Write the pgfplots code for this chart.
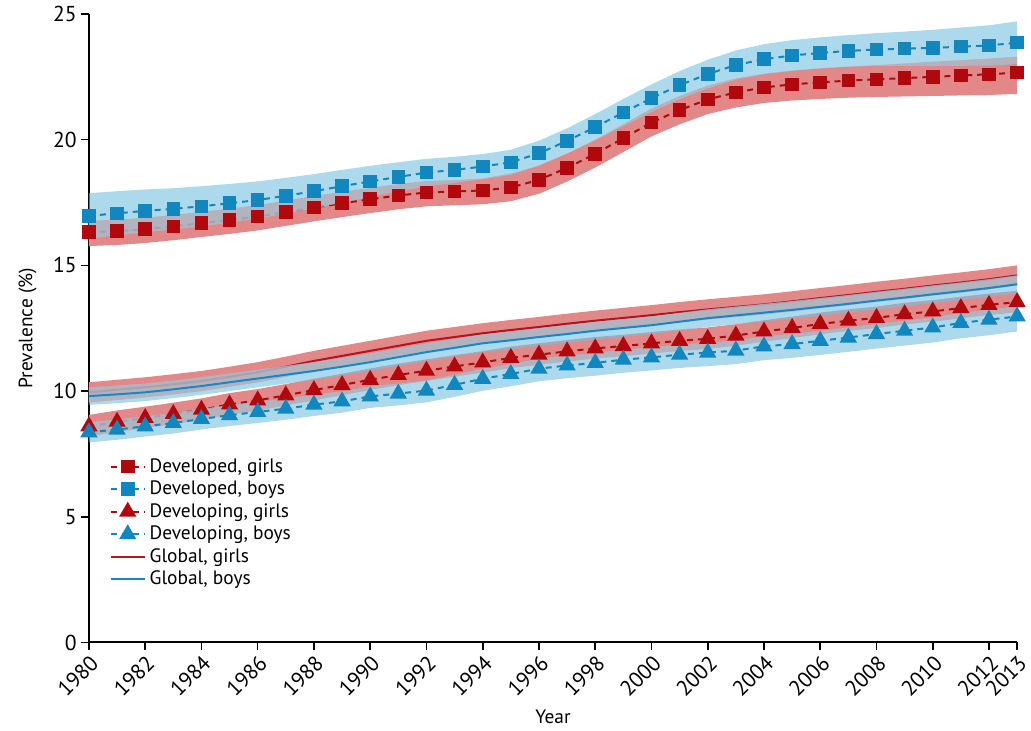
\documentclass[border=0pt]{standalone}
\usepackage{fontspec}
\setmainfont{PT Sans}
\usepackage{pgfplots}
\usepackage{pgfplotstable}
\usepgfplotslibrary{fillbetween}
\pgfplotsset{compat=1.18}

\definecolor{mred}{RGB}{176,8,12}
\definecolor{mblue}{RGB}{18,134,190}
\definecolor{bandred}{RGB}{226,136,136}
\definecolor{bandblue}{RGB}{117,193,223}
\definecolor{bandgray}{RGB}{190,186,194}
\definecolor{lred}{RGB}{180,20,30}
\definecolor{lblue}{RGB}{25,135,195}

% Developed countries
\pgfplotstableread{
year dg dglo dghi db dblo dbhi
1980 16.32 15.77 16.77 16.97 16.07 17.87
1981 16.36 15.81 16.81 17.07 16.19 17.95
1982 16.44 15.89 16.89 17.17 16.32 18.02
1983 16.55 16.00 17.00 17.25 16.43 18.07
1984 16.68 16.13 17.13 17.35 16.55 18.15
1985 16.80 16.25 17.25 17.47 16.70 18.24
1986 16.94 16.39 17.39 17.60 16.86 18.34
1987 17.12 16.57 17.57 17.77 17.06 18.48
1988 17.30 16.75 17.75 17.95 17.27 18.63
1989 17.47 16.92 17.92 18.15 17.50 18.80
1990 17.63 17.08 18.08 18.34 17.72 18.96
1991 17.78 17.23 18.23 18.52 17.94 19.10
1992 17.90 17.35 18.35 18.69 18.14 19.24
1993 17.94 17.39 18.39 18.80 18.28 19.32
1994 17.98 17.43 18.45 18.93 18.43 19.43
1995 18.10 17.55 18.65 19.10 18.60 19.60
1996 18.40 17.85 18.97 19.46 18.96 19.96
1997 18.88 18.33 19.45 19.95 19.45 20.45
1998 19.44 18.89 19.99 20.50 19.98 21.02
1999 20.06 19.51 20.61 21.08 20.54 21.62
2000 20.68 20.13 21.23 21.65 21.10 22.20
2001 21.18 20.61 21.73 22.17 21.61 22.73
2002 21.60 21.02 22.15 22.61 22.04 23.18
2003 21.88 21.28 22.43 22.97 22.39 23.55
2004 22.08 21.46 22.62 23.20 22.60 23.80
2005 22.20 21.56 22.75 23.35 22.74 23.96
2006 22.28 21.62 22.84 23.45 22.83 24.07
2007 22.35 21.67 22.91 23.53 22.90 24.16
2008 22.40 21.70 22.96 23.59 22.94 24.24
2009 22.45 21.72 23.03 23.62 22.94 24.30
2010 22.50 21.74 23.10 23.65 22.93 24.37
2011 22.55 21.76 23.16 23.70 22.94 24.46
2012 22.60 21.78 23.22 23.75 22.95 24.55
2013 22.67 21.82 23.30 23.86 23.01 24.71
}\dev

% Developing countries
\pgfplotstableread{
year vg vglo vghi vb vblo vbhi
1980 8.60 8.20 9.05 8.36 7.96 8.76
1981 8.78 8.38 9.23 8.47 8.06 8.87
1982 8.93 8.53 9.38 8.60 8.19 9.00
1983 9.09 8.69 9.54 8.73 8.31 9.13
1984 9.26 8.86 9.71 8.89 8.47 9.29
1985 9.47 9.07 9.92 9.04 8.61 9.44
1986 9.63 9.23 10.08 9.17 8.73 9.57
1987 9.83 9.43 10.28 9.30 8.86 9.70
1988 10.04 9.64 10.49 9.46 9.01 9.86
1989 10.24 9.84 10.69 9.59 9.14 9.99
1990 10.45 10.05 10.90 9.79 9.33 10.19
1991 10.64 10.24 11.09 9.90 9.43 10.30
1992 10.81 10.41 11.26 10.02 9.55 10.42
1993 10.98 10.58 11.43 10.25 9.77 10.65
1994 11.14 10.74 11.59 10.49 10.01 10.89
1995 11.32 10.92 11.77 10.68 10.19 11.08
1996 11.45 11.05 11.90 10.89 10.39 11.29
1997 11.58 11.18 12.03 11.02 10.51 11.42
1998 11.70 11.30 12.15 11.12 10.61 11.52
1999 11.79 11.39 12.24 11.25 10.73 11.65
2000 11.90 11.50 12.35 11.34 10.82 11.74
2001 12.00 11.60 12.45 11.45 10.92 11.85
2002 12.08 11.68 12.53 11.53 10.99 11.93
2003 12.21 11.81 12.66 11.61 11.07 12.01
2004 12.37 11.97 12.82 11.78 11.23 12.18
2005 12.51 12.11 12.96 11.87 11.32 12.27
2006 12.67 12.27 13.12 12.00 11.44 12.40
2007 12.80 12.40 13.25 12.13 11.56 12.53
2008 12.91 12.51 13.36 12.27 11.69 12.67
2009 13.06 12.66 13.51 12.40 11.81 12.80
2010 13.17 12.77 13.62 12.53 11.93 12.93
2011 13.30 12.90 13.75 12.71 12.10 13.11
2012 13.43 13.03 13.88 12.84 12.22 13.24
2013 13.54 13.14 13.99 12.97 12.37 13.37
}\dvl

% Global
\pgfplotstableread{
year gg gglo gghi gb gblo gbhi
1980 9.95 9.55 10.35 9.80 9.45 10.15
1981 10.05 9.65 10.45 9.87 9.52 10.22
1982 10.15 9.75 10.55 9.95 9.60 10.30
1983 10.27 9.87 10.67 10.07 9.72 10.42
1984 10.40 10.00 10.80 10.20 9.85 10.55
1985 10.57 10.17 10.97 10.35 10.00 10.70
1986 10.75 10.35 11.15 10.50 10.15 10.85
1987 10.97 10.57 11.37 10.65 10.30 11.00
1988 11.20 10.80 11.60 10.80 10.45 11.15
1989 11.40 11.00 11.80 10.97 10.62 11.32
1990 11.60 11.20 12.00 11.15 10.80 11.50
1991 11.80 11.40 12.20 11.35 11.00 11.70
1992 12.00 11.60 12.40 11.55 11.20 11.90
1993 12.15 11.75 12.55 11.72 11.37 12.07
1994 12.30 11.90 12.70 11.90 11.55 12.25
1995 12.43 12.03 12.83 12.02 11.67 12.37
1996 12.55 12.15 12.95 12.15 11.80 12.50
1997 12.68 12.28 13.08 12.27 11.92 12.62
1998 12.80 12.40 13.20 12.40 12.05 12.75
1999 12.91 12.51 13.31 12.51 12.16 12.86
2000 13.02 12.62 13.42 12.62 12.27 12.97
2001 13.14 12.74 13.54 12.76 12.41 13.11
2002 13.25 12.85 13.65 12.90 12.55 13.25
2003 13.35 12.95 13.75 13.01 12.66 13.36
2004 13.45 13.05 13.85 13.12 12.77 13.47
2005 13.57 13.17 13.97 13.23 12.88 13.58
2006 13.70 13.30 14.10 13.35 13.00 13.70
2007 13.82 13.42 14.22 13.47 13.12 13.82
2008 13.95 13.55 14.35 13.60 13.25 13.95
2009 14.07 13.67 14.47 13.72 13.37 14.07
2010 14.20 13.80 14.60 13.85 13.50 14.20
2011 14.32 13.92 14.72 13.97 13.62 14.32
2012 14.45 14.05 14.85 14.10 13.75 14.45
2013 14.60 14.20 15.00 14.25 13.90 14.60
}\glb

\begin{document}
\begin{tikzpicture}
\begin{axis}[
  scale only axis,
  width=464.5pt, height=314.5pt,
  xmin=1980, xmax=2013, ymin=0, ymax=25,
  clip=false,
  axis x line*=bottom, axis y line*=left,
  axis line style={line width=1pt, -},
  xtick={1980,1982,1984,1986,1988,1990,1992,1994,1996,1998,2000,2002,2004,2006,2008,2010,2012,2013},
  ytick={0,5,10,15,20,25},
  tick align=outside,
  major tick length=4pt,
  tick style={black, line width=0.8pt},
  font=\fontsize{9.7}{11.5}\selectfont,
  /pgf/number format/assume math mode=true,
  ticklabel style={font=\fontsize{10.8}{12}\selectfont},
  xticklabel style={rotate=45, anchor=north east, inner sep=1pt, /pgf/number format/1000 sep={}},
  yticklabel style={inner sep=2pt},
  xlabel={Year}, ylabel={Prevalence (\%)},
  xlabel style={at={(axis description cs:0.5,-0.119)}, anchor=center},
  ylabel style={at={(axis description cs:-0.066,0.5)}, anchor=center},
  legend style={at={(0.022,0.30)}, anchor=north west, draw=none, fill=none,
    font=\fontsize{9.7}{11.5}\selectfont, row sep=-1.1pt, inner sep=0pt},
  legend cell align=left,
  legend image code/.code={\draw[mark repeat=2,mark phase=2] plot coordinates {(0pt,0pt)(8.5pt,0pt)(17pt,0pt)};},
]
% ---- red bands ----
\addplot[name path=dghi, draw=none, forget plot] table[x=year,y=dghi]{\dev};
\addplot[name path=dglo, draw=none, forget plot] table[x=year,y=dglo]{\dev};
\addplot[fill=bandred, draw=none, forget plot] fill between[of=dghi and dglo, on layer=main];
\addplot[name path=gghi, draw=none, forget plot] table[x=year,y=gghi]{\glb};
\addplot[name path=gglo, draw=none, forget plot] table[x=year,y=gglo]{\glb};
\addplot[fill=bandred, draw=none, forget plot] fill between[of=gghi and gglo, on layer=main];
\addplot[name path=vghi, draw=none, forget plot] table[x=year,y=vghi]{\dvl};
\addplot[name path=vglo, draw=none, forget plot] table[x=year,y=vglo]{\dvl};
\addplot[fill=bandred, draw=none, forget plot] fill between[of=vghi and vglo, on layer=main];
% ---- red lines ----
\addplot[lred, line width=1pt, forget plot] table[x=year,y=gg]{\glb};
\addplot[mred, line width=1pt, dash pattern=on 3pt off 2.5pt, mark=square*, mark size=2.9pt, mark options={solid}, forget plot] table[x=year,y=dg]{\dev};
\addplot[mred, line width=1pt, dash pattern=on 3pt off 2.5pt, mark=triangle*, mark size=4pt, mark options={solid}, forget plot] table[x=year,y=vg]{\dvl};
% ---- blue bands ----
\addplot[name path=dbhi, draw=none, forget plot] table[x=year,y=dbhi]{\dev};
\addplot[name path=dblo, draw=none, forget plot] table[x=year,y=dblo]{\dev};
\addplot[fill=bandblue, fill opacity=0.6, draw=none, forget plot] fill between[of=dbhi and dblo, on layer=main];
\addplot[name path=gbhi, draw=none, forget plot] table[x=year,y=gbhi]{\glb};
\addplot[name path=gblo, draw=none, forget plot] table[x=year,y=gblo]{\glb};
\addplot[fill=bandblue, fill opacity=0.6, draw=none, forget plot] fill between[of=gbhi and gblo, on layer=main];
\addplot[name path=vbhi, draw=none, forget plot] table[x=year,y=vbhi]{\dvl};
\addplot[name path=vblo, draw=none, forget plot] table[x=year,y=vblo]{\dvl};
\addplot[fill=bandblue, fill opacity=0.6, draw=none, forget plot] fill between[of=vbhi and vblo, on layer=main];
% ---- grey overlap tint ----
\addplot[fill=bandgray, fill opacity=0.6, draw=none, forget plot] fill between[of=dghi and dblo, on layer=main];
\addplot[fill=bandgray, fill opacity=0.6, draw=none, forget plot] fill between[of=gbhi and gglo, on layer=main];
\addplot[fill=bandgray, fill opacity=0.6, draw=none, forget plot] fill between[of=vbhi and vglo, on layer=main];
% ---- blue lines ----
\addplot[lblue, line width=1pt, forget plot] table[x=year,y=gb]{\glb};
\addplot[mblue, line width=1pt, dash pattern=on 3pt off 2.5pt, mark=square*, mark size=2.9pt, mark options={solid}, forget plot] table[x=year,y=db]{\dev};
\addplot[mblue, line width=1pt, dash pattern=on 3pt off 2.5pt, mark=triangle*, mark size=4pt, mark options={solid}, forget plot] table[x=year,y=vb]{\dvl};
% ---- bounding box to match the reference margins ----
\path (rel axis cs:0,0) ++(-44.5pt,-43.5pt);
\path (rel axis cs:1,1) ++(6.5pt,7pt);
% ---- legend ----
\addlegendimage{mred, line width=1pt, dash pattern=on 3pt off 2.5pt, mark=square*, mark size=2.9pt, mark options={solid}}
\addlegendentry{Developed, girls}
\addlegendimage{mblue, line width=1pt, dash pattern=on 3pt off 2.5pt, mark=square*, mark size=2.9pt, mark options={solid}}
\addlegendentry{Developed, boys}
\addlegendimage{mred, line width=1pt, dash pattern=on 3pt off 2.5pt, mark=triangle*, mark size=4pt, mark options={solid}}
\addlegendentry{Developing, girls}
\addlegendimage{mblue, line width=1pt, dash pattern=on 3pt off 2.5pt, mark=triangle*, mark size=4pt, mark options={solid}}
\addlegendentry{Developing, boys}
\addlegendimage{lred, line width=1pt}
\addlegendentry{Global, girls}
\addlegendimage{lblue, line width=1pt}
\addlegendentry{Global, boys}
\end{axis}
\end{tikzpicture}
\end{document}
